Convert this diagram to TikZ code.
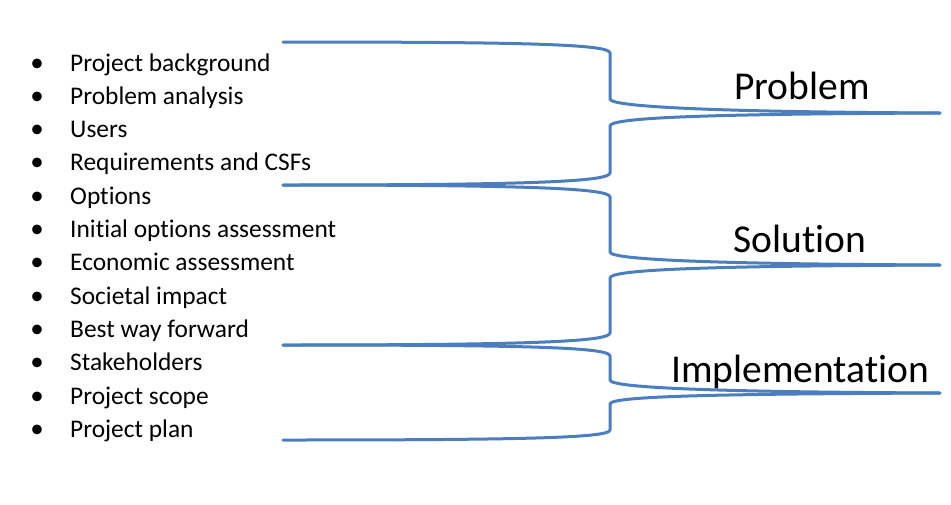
\documentclass[tikz,border=0pt]{standalone}
\usepackage{fontspec}
\setmainfont{Carlito}[Ligatures=NoCommon]
\definecolor{braceblue}{RGB}{74,126,190}
\begin{document}
\begin{tikzpicture}[x=1pt,y=-1pt,
  bracestroke/.style={draw=braceblue, line width=3pt, line cap=round, line join=round},
  item/.style={anchor=base west, inner sep=0pt, font=\fontsize{25.4}{30}\selectfont},
  bul/.style={anchor=base, inner sep=0pt, font=\fontsize{27}{30}\selectfont},
  label/.style={anchor=base, inner sep=0pt, font=\fontsize{39.5}{44}\selectfont}]
\useasboundingbox (0,0) rectangle (951,504);
% list
\foreach \t [count=\i from 0] in {Project background,Problem analysis,Users,Requirements and CSFs,Options,Initial options assessment,Economic assessment,Societal impact,Best way forward,Stakeholders,Project scope,Project plan}{
  \node[bul] (b\i) at (37,71+33.3*\i) {•};
  \node[item] (t\i) at (70,71+33.3*\i) {\t};
}
% labels
\node[label] (lp) at (802,99) {Problem};
\node[label] (ls) at (800,252) {Solution};
\node[label] (li) at (800,382) {Implementation};
% brace coordinates
\coordinate (a0) at (283,42);
\coordinate (a1) at (283,185);
\coordinate (a2) at (283,345);
\coordinate (a3) at (283,440);
\coordinate (tp) at (940,113);
\coordinate (ts) at (940,265);
\coordinate (ti) at (940,393);
% braces
\draw[bracestroke] (a0) .. controls (520,42) and (610,44) .. (610,53) -- (610,99)
  .. controls (610,107) and (720,112) .. (tp);
\draw[bracestroke] (tp) .. controls (720,114) and (610,117) .. (610,126) -- (610,173)
  .. controls (610,182) and (520,185) .. (a1);
\draw[bracestroke] (a1) .. controls (520,185) and (610,188) .. (610,197) -- (610,252)
  .. controls (610,260) and (720,264) .. (ts);
\draw[bracestroke] (ts) .. controls (720,266) and (610,269) .. (610,278) -- (610,333)
  .. controls (610,342) and (520,345) .. (a2);
\draw[bracestroke] (a2) .. controls (520,345) and (610,347) .. (610,356) -- (610,380)
  .. controls (610,388) and (720,392) .. (ti);
\draw[bracestroke] (ti) .. controls (720,394) and (610,396) .. (610,404) -- (610,430)
  .. controls (610,438) and (520,440) .. (a3);
\end{tikzpicture}
\end{document}
